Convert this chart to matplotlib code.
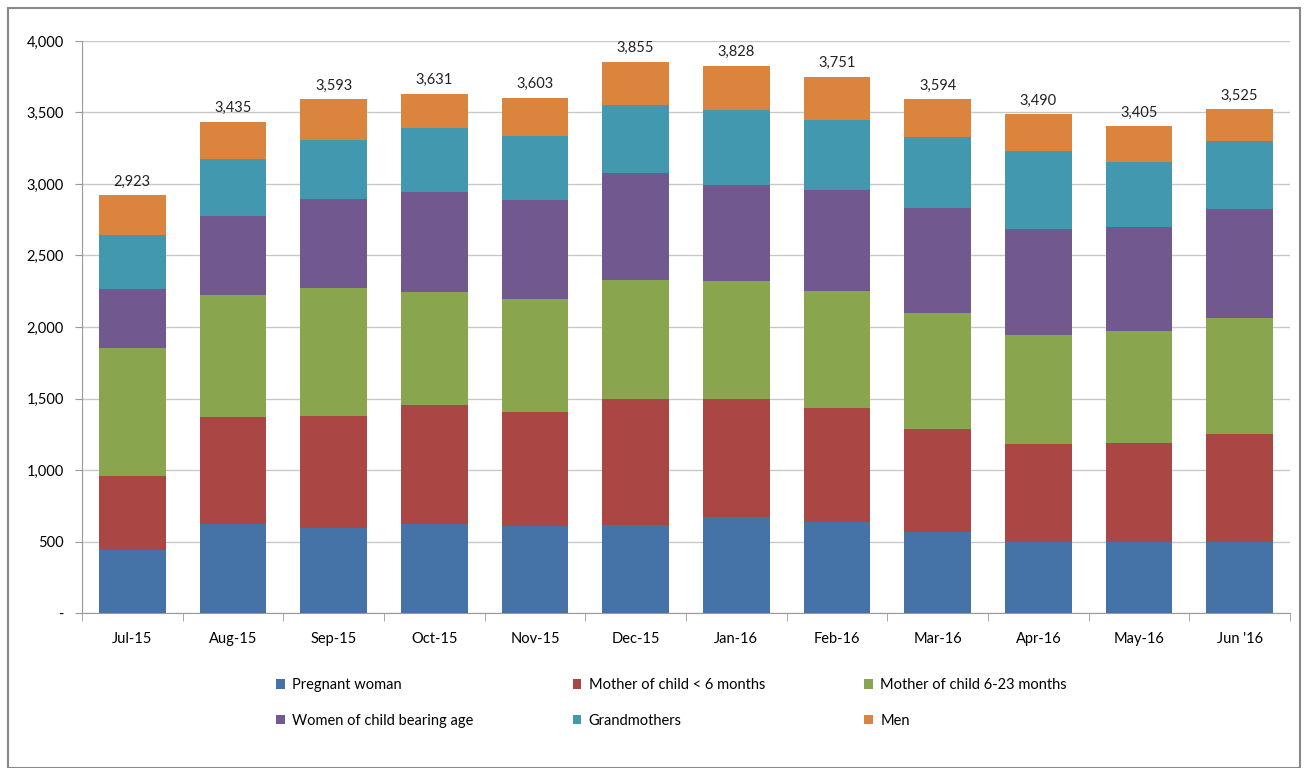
import numpy as np
import matplotlib
matplotlib.use("Agg")
import matplotlib.pyplot as plt
from matplotlib.patches import Rectangle

plt.rcParams['font.family'] = ['Lato', 'DejaVu Sans']

months = ["Jul-15", "Aug-15", "Sep-15", "Oct-15", "Nov-15", "Dec-15",
          "Jan-16", "Feb-16", "Mar-16", "Apr-16", "May-16", "Jun '16"]

pregnant = [443, 623, 595, 623, 609, 615, 672, 638, 569, 500, 500, 500]
mother_lt6 = [512, 749, 786, 829, 798, 880, 826, 794, 721, 681, 689, 755]
mother_6_23 = [895, 850, 892, 790, 786, 832, 821, 818, 809, 766, 784, 809]
women_cba = [414, 554, 623, 700, 695, 752, 677, 709, 734, 738, 729, 758]
grandmothers = [381, 401, 412, 452, 449, 475, 521, 489, 498, 546, 452, 480]
men = [278, 258, 285, 237, 266, 301, 311, 303, 263, 259, 251, 223]
totals = [2923, 3435, 3593, 3631, 3603, 3855, 3828, 3751, 3594, 3490, 3405, 3525]

series = [pregnant, mother_lt6, mother_6_23, women_cba, grandmothers, men]
names = ["Pregnant woman", "Mother of child < 6 months", "Mother of child 6-23 months",
         "Women of child bearing age", "Grandmothers", "Men"]
colors = ["#4572A7", "#AA4643", "#89A54E", "#71588F", "#4198AF", "#DB843D"]

fig = plt.figure(figsize=(13.09, 7.68), dpi=100)
ax = fig.add_axes([82/1309, 1 - 613/768, (1290-82)/1309, (613-41)/768])

x = np.arange(len(months))
bottom = np.zeros(len(months))
handles = []
for vals, name, c in zip(series, names, colors):
    b = ax.bar(x, vals, width=0.66, bottom=bottom, color=c, label=name, zorder=3)
    handles.append(b)
    bottom += np.array(vals)

for xi, t in zip(x, totals):
    ax.text(xi, t + 45, f"{t:,}", ha="center", va="bottom", fontsize=10.5, color="#222222")

ax.set_xlim(-0.5, len(months) - 0.5)
ax.set_ylim(0, 4000)
ax.set_yticks(np.arange(0, 4001, 500))
ax.set_yticklabels(["-"] + [f"{v:,}" for v in range(500, 4001, 500)], fontsize=10.5)
ax.set_xticks(x)
ax.set_xticklabels(months, fontsize=10.5)
ax.set_xticks(np.arange(-0.5, len(months), 1), minor=True)
ax.tick_params(axis="x", which="major", length=0, pad=14)
ax.tick_params(axis="x", which="minor", length=6, color="#999999")
ax.tick_params(axis="y", length=5, color="#999999", pad=8)
ax.grid(axis="y", color="#c8c8c8", linewidth=1, zorder=0)
for s in ["top", "right"]:
    ax.spines[s].set_visible(False)
for s in ["left", "bottom"]:
    ax.spines[s].set_color("#999999")

order = [0, 3, 1, 4, 2, 5]
fig.legend([handles[i] for i in order], [names[i] for i in order], ncol=3,
           loc="center", bbox_to_anchor=(0.513, 1 - 703/768), frameon=False,
           fontsize=10.5, handlelength=0.6, handleheight=0.6, handletextpad=0.5,
           columnspacing=6.8, labelspacing=1.5)

fig.patches.append(Rectangle((8/1309, 0), 1292/1309, 1 - 8/768, transform=fig.transFigure,
                             fill=False, edgecolor="#888888", linewidth=1.5))

fig.savefig("out.png", dpi=100)
